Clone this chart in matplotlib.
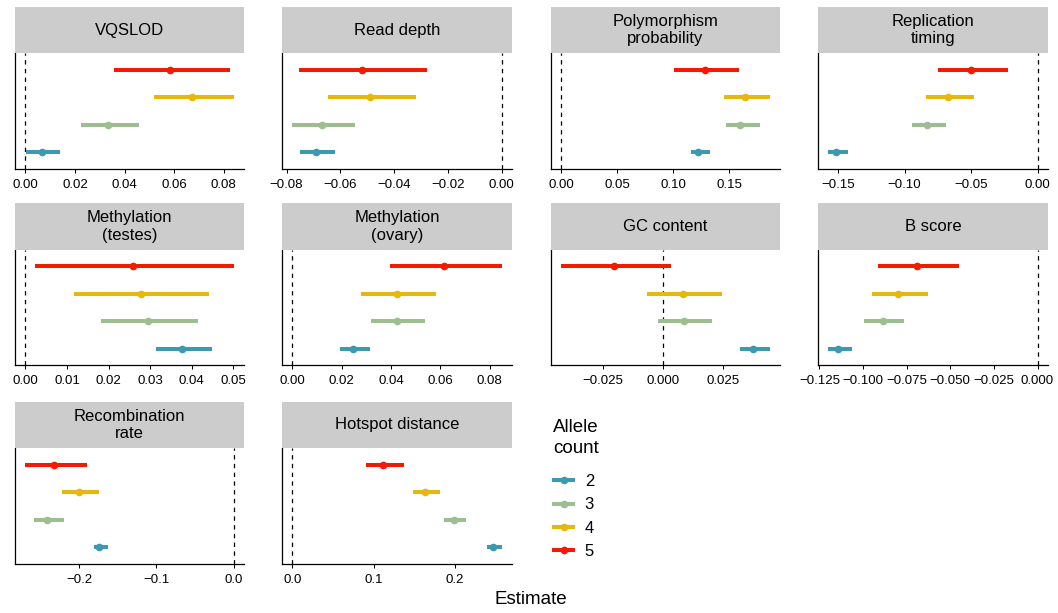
import matplotlib
matplotlib.use("Agg")
import matplotlib.pyplot as plt
from matplotlib.lines import Line2D

plt.rcParams['font.family'] = ['Liberation Sans', 'DejaVu Sans']

# 数据 (allele count order: 2, 3, 4, 5)
allele_counts = ["2", "3", "4", "5"]
colours = ["#3B9AB2", "#9EBE91", "#E4B80E", "#F21A00"]

panel_titles = ["VQSLOD", "Read depth", "Polymorphism\nprobability", "Replication\ntiming",
                "Methylation\n(testes)", "Methylation\n(ovary)", "GC content", "B score",
                "Recombination\nrate", "Hotspot distance"]

est_mid = [
    [0.0066, 0.0333, 0.0672, 0.0584],
    [-0.0691, -0.0668, -0.0489, -0.0520],
    [0.1225, 0.1598, 0.1640, 0.1288],
    [-0.1513, -0.0831, -0.0672, -0.0497],
    [0.0376, 0.0294, 0.0277, 0.0258],
    [0.0245, 0.0423, 0.0423, 0.0616],
    [0.0377, 0.0087, 0.0084, -0.0201],
    [-0.1141, -0.0888, -0.0798, -0.0692],
    [-0.1748, -0.2412, -0.2009, -0.2321],
    [0.2471, 0.1983, 0.1632, 0.1112],
]
est_lo = [
    [0.0004, 0.0224, 0.0517, 0.0358],
    [-0.0751, -0.0778, -0.0645, -0.0753],
    [0.1154, 0.1467, 0.1449, 0.1005],
    [-0.1573, -0.0947, -0.0838, -0.0747],
    [0.0314, 0.0181, 0.0117, 0.0023],
    [0.0192, 0.0318, 0.0278, 0.0396],
    [0.0320, -0.0018, -0.0066, -0.0422],
    [-0.1198, -0.0993, -0.0947, -0.0913],
    [-0.1813, -0.2581, -0.2226, -0.2698],
    [0.2401, 0.1868, 0.1483, 0.0905],
]
est_hi = [
    [0.0139, 0.0459, 0.0840, 0.0826],
    [-0.0620, -0.0545, -0.0320, -0.0276],
    [0.1327, 0.1771, 0.1861, 0.1590],
    [-0.1424, -0.0687, -0.0480, -0.0225],
    [0.0448, 0.0416, 0.0442, 0.0501],
    [0.0314, 0.0539, 0.0581, 0.0848],
    [0.0445, 0.0206, 0.0246, 0.0035],
    [-0.1064, -0.0763, -0.0629, -0.0452],
    [-0.1631, -0.2195, -0.1740, -0.1900],
    [0.2574, 0.2136, 0.1822, 0.1368],
]
tick_vals = [
    [0.00, 0.02, 0.04, 0.06, 0.08],
    [-0.08, -0.06, -0.04, -0.02, 0.00],
    [0.00, 0.05, 0.10, 0.15],
    [-0.15, -0.10, -0.05, 0.00],
    [0.00, 0.01, 0.02, 0.03, 0.04, 0.05],
    [0.00, 0.02, 0.04, 0.06, 0.08],
    [-0.025, 0.000, 0.025],
    [-0.125, -0.100, -0.075, -0.050, -0.025, 0.000],
    [-0.2, -0.1, 0.0],
    [0.0, 0.1, 0.2],
]
tick_digits = [2, 2, 2, 2, 2, 2, 3, 3, 1, 1]

W, H = 1058, 613
fig = plt.figure(figsize=(W / 100, H / 100), dpi=100)


def box(l, t, r, b):
    return [l / W, 1 - b / H, (r - l) / W, (b - t) / H]


cols = [(15, 244), (282, 512), (551, 780), (818, 1048)]
rows = [(7, 53, 169), (203, 250, 365), (402, 448, 564)]

for i, title in enumerate(panel_titles):
    cl, cr = cols[i % 4]
    st, pt, pb = rows[i // 4]
    ax = fig.add_axes(box(cl, pt, cr, pb))
    strip = fig.add_axes(box(cl, st, cr, pt))
    strip.set_facecolor("#CCCCCC")
    strip.set_xticks([])
    strip.set_yticks([])
    for s in strip.spines.values():
        s.set_visible(False)
    strip.text(0.5, 0.5, title, ha="center", va="center", fontsize=12,
               linespacing=1.2, transform=strip.transAxes)

    ax.axvline(0, color="black", lw=0.9, ls=(0, (3.5, 3.5)), zorder=1)
    for j in range(4):
        m = est_mid[i][j]
        ax.errorbar(m, j + 1, xerr=[[m - est_lo[i][j]], [est_hi[i][j] - m]],
                    fmt="o", color=colours[j], ms=4.5, elinewidth=2.9,
                    capsize=0, zorder=3)

    lo = min(min(est_lo[i]), 0)
    hi = max(max(est_hi[i]), 0)
    pad = (hi - lo) * 0.05
    ax.set_xlim(lo - pad, hi + pad)
    ax.set_ylim(0.4, 4.6)
    ax.set_yticks([])
    ax.set_xticks(tick_vals[i])
    ax.set_xticklabels([f"{v:.{tick_digits[i]}f}".replace("-", "\u2212") for v in tick_vals[i]])
    ax.tick_params(axis="x", length=3, width=0.75, pad=4.5, labelsize=9.5, colors="black")
    ax.spines["top"].set_visible(False)
    ax.spines["right"].set_visible(False)
    ax.spines["left"].set_linewidth(0.9)
    ax.spines["bottom"].set_linewidth(0.9)

# legend
fig.text(553 / W, 1 - 419 / H, "Allele\ncount", ha="left", va="top", fontsize=13.5,
         linespacing=1.3)
handles = [Line2D([], [], color=c, lw=2.9, marker="o", ms=4.5) for c in colours]
leg = fig.legend(handles, allele_counts, loc="upper left",
                 bbox_to_anchor=(554 / W, 1 - 474 / H), frameon=False, fontsize=12,
                 handlelength=1.14, handletextpad=0.7,
                 labelspacing=0.5, borderpad=0, borderaxespad=0)

fig.text(531 / W, 1 - 600 / H, "Estimate", ha="center", va="center", fontsize=13.5)

fig.savefig("out.png", dpi=100)
